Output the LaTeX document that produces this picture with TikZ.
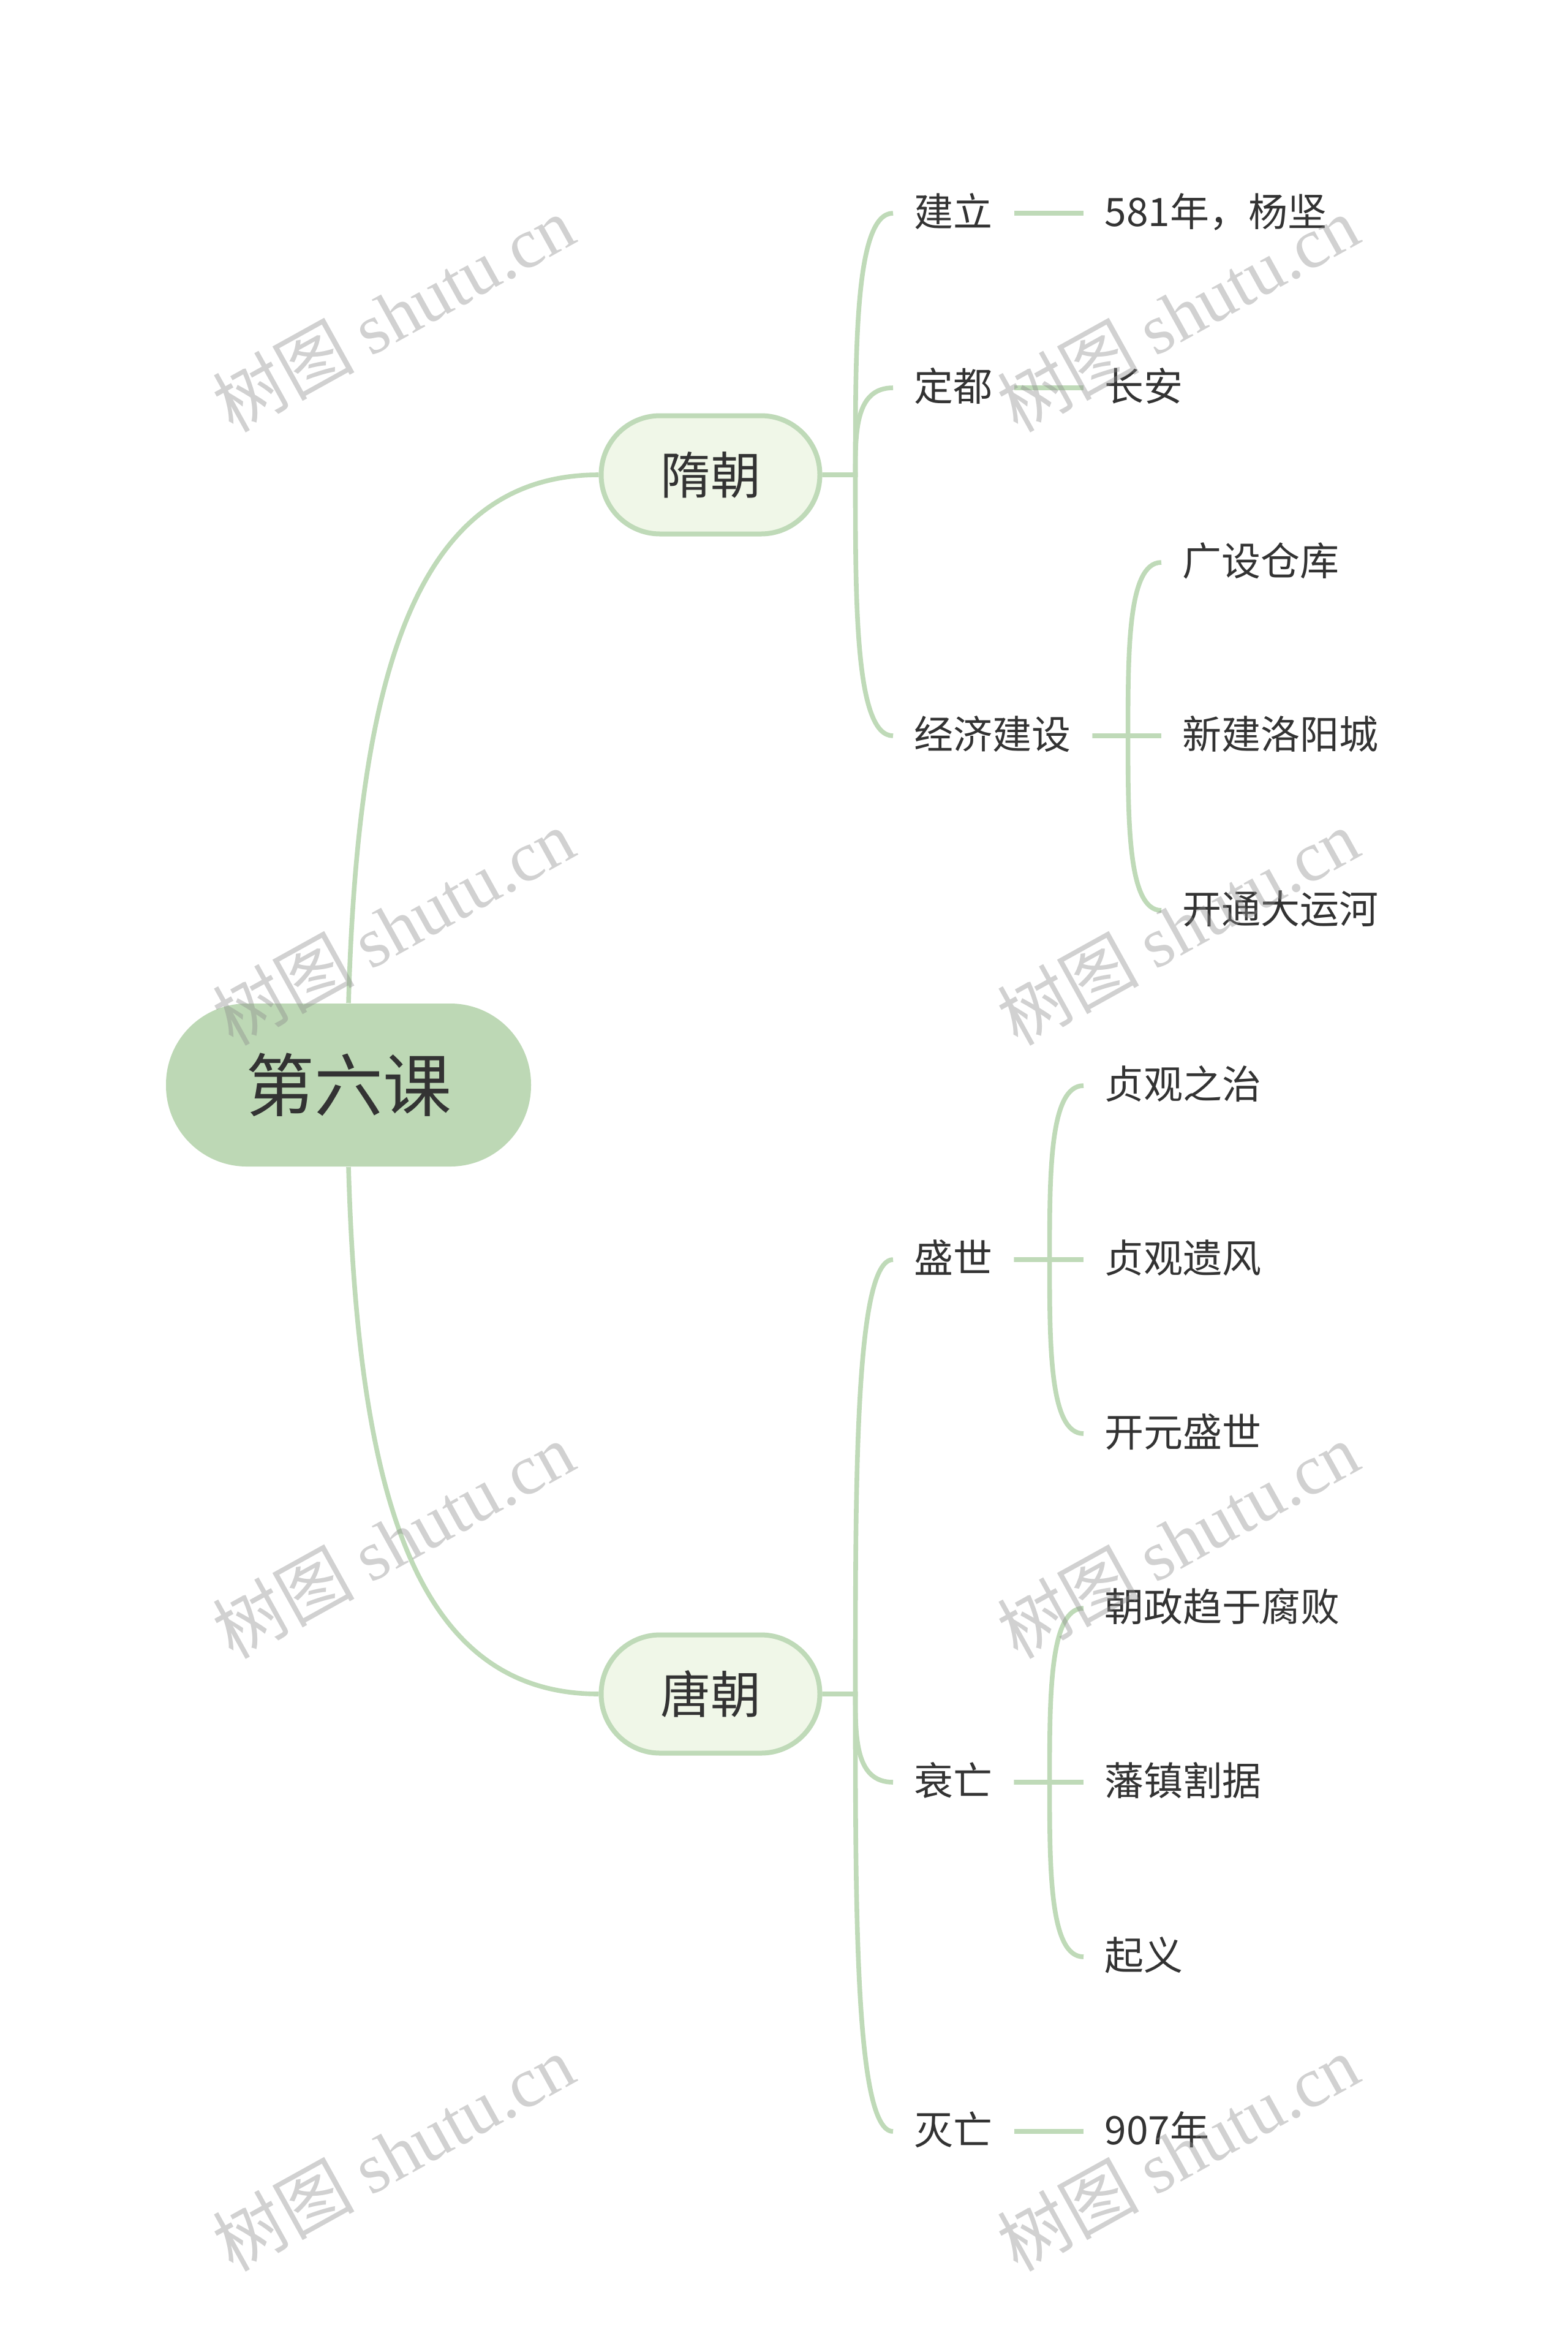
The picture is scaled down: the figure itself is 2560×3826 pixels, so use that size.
\documentclass[tikz,border=0pt]{standalone}
\usepackage{fontspec}
\setmainfont{Noto Sans CJK SC}
\newfontfamily\wmcjk{Noto Sans CJK SC}
\newfontfamily\wmlat{Liberation Serif}
\usetikzlibrary{calc}
\definecolor{linec}{HTML}{BFDAB8}
\definecolor{rootc}{HTML}{BDD8B5}
\definecolor{subfill}{HTML}{F0F7E8}
\definecolor{txt}{HTML}{333333}
\definecolor{wmc}{HTML}{8C8C8C}
\pgfdeclarelayer{bg}\pgfdeclarelayer{fg}\pgfsetlayers{bg,main,fg}
\newcommand\branch[3]{%
  \draw[conn] let \p1=(#1.east), \p2=(#2.west) in
    (\p1) -- ({\x1+#3},\y1) .. controls ({\x1+#3},{0.5*\y1+0.5*\y2}) and ({\x1+#3},\y2) .. (\p2);}
\begin{document}
\begin{tikzpicture}[x=0.25pt,y=-0.25pt,
  conn/.style={draw=linec, line width=1.9pt},
  rootnode/.style={fill=rootc, rounded corners=33pt, minimum width=149pt, minimum height=66.5pt, inner sep=0pt, text=txt, font=\fontsize{28pt}{32pt}\selectfont},
  mainnode/.style={fill=subfill, draw=linec, line width=2pt, rounded corners=24pt, minimum width=89.25pt, minimum height=48.25pt, inner sep=0pt, text=txt, font=\fontsize{20.5pt}{24pt}\selectfont},
  leaf/.style={anchor=west, inner xsep=8.5pt, inner ysep=0pt, text=txt, font=\fontsize{16pt}{20pt}\selectfont, text height=1.1em, text depth=0.02em},
  wmark/.style={rotate=29, text=wmc, text opacity=0.4, inner sep=0pt, font=\fontsize{29pt}{32pt}\selectfont}]
\useasboundingbox (0,0) rectangle (2560,3826);

% main nodes
\node[rootnode] (root) at (569,1771) {第六课};
\node[mainnode] (sui) at (1160,775) {隋朝};
\node[mainnode] (tang) at (1160,2765) {唐朝};

% Sui branch
\node[leaf] (jl) at (1458,348) {建立};
\node[leaf] (dd) at (1458,633) {定都};
\node[leaf] (jj) at (1458,1201) {经济建设};
\node[leaf] (n581) at (1769,348) {581年，杨坚};
\node[leaf] (ca) at (1769,633) {长安};
\node[leaf] (gs) at (1896,918) {广设仓库};
\node[leaf] (xj) at (1896,1201) {新建洛阳城};
\node[leaf] (kt) at (1896,1486) {开通大运河};

% Tang branch
\node[leaf] (ss) at (1458,2056) {盛世};
\node[leaf] (sw) at (1458,2909) {衰亡};
\node[leaf] (mw) at (1458,3479) {灭亡};
\node[leaf] (zg1) at (1769,1772) {贞观之治};
\node[leaf] (zg2) at (1769,2056) {贞观遗风};
\node[leaf] (ky) at (1769,2340) {开元盛世};
\node[leaf] (cz) at (1769,2625) {朝政趋于腐败};
\node[leaf] (fz) at (1769,2909) {藩镇割据};
\node[leaf] (qy) at (1769,3194) {起义};
\node[leaf] (n907) at (1769,3479) {907年};

\begin{pgfonlayer}{bg}
\fill[white] (0,0) rectangle (2560,3826);
\draw[conn] let \p1=(root.north), \p2=(sui.west) in
  (\p1) .. controls ({\x1+0.037*(\x2-\x1)},{\y1+0.624*(\y2-\y1)}) and ({\x1+0.268*(\x2-\x1)},\y2) .. (\p2);
\draw[conn] let \p1=(root.south), \p2=(tang.west) in
  (\p1) .. controls ({\x1+0.037*(\x2-\x1)},{\y1+0.624*(\y2-\y1)}) and ({\x1+0.268*(\x2-\x1)},\y2) .. (\p2);
\branch{sui}{jl}{13.5pt}
\branch{sui}{dd}{13.5pt}
\branch{sui}{jj}{13.5pt}
\branch{jl}{n581}{14.5pt}
\branch{dd}{ca}{14.5pt}
\branch{jj}{gs}{14.5pt}
\branch{jj}{xj}{14.5pt}
\branch{jj}{kt}{14.5pt}
\branch{tang}{ss}{13.5pt}
\branch{tang}{sw}{13.5pt}
\branch{tang}{mw}{13.5pt}
\branch{ss}{zg1}{14.5pt}
\branch{ss}{zg2}{14.5pt}
\branch{ss}{ky}{14.5pt}
\branch{sw}{cz}{14.5pt}
\branch{sw}{fz}{14.5pt}
\branch{sw}{qy}{14.5pt}
\branch{mw}{n907}{14.5pt}
\end{pgfonlayer}

\begin{pgfonlayer}{fg}
\foreach \wx in {642,1923} {
  \foreach \wy in {512,1513,2514,3514} {
    \node[wmark] (wm-\wx-\wy) at (\wx,\wy) {{\wmcjk 树图} {\wmlat shutu.cn}};
  }
}
\end{pgfonlayer}
\end{tikzpicture}
\end{document}
